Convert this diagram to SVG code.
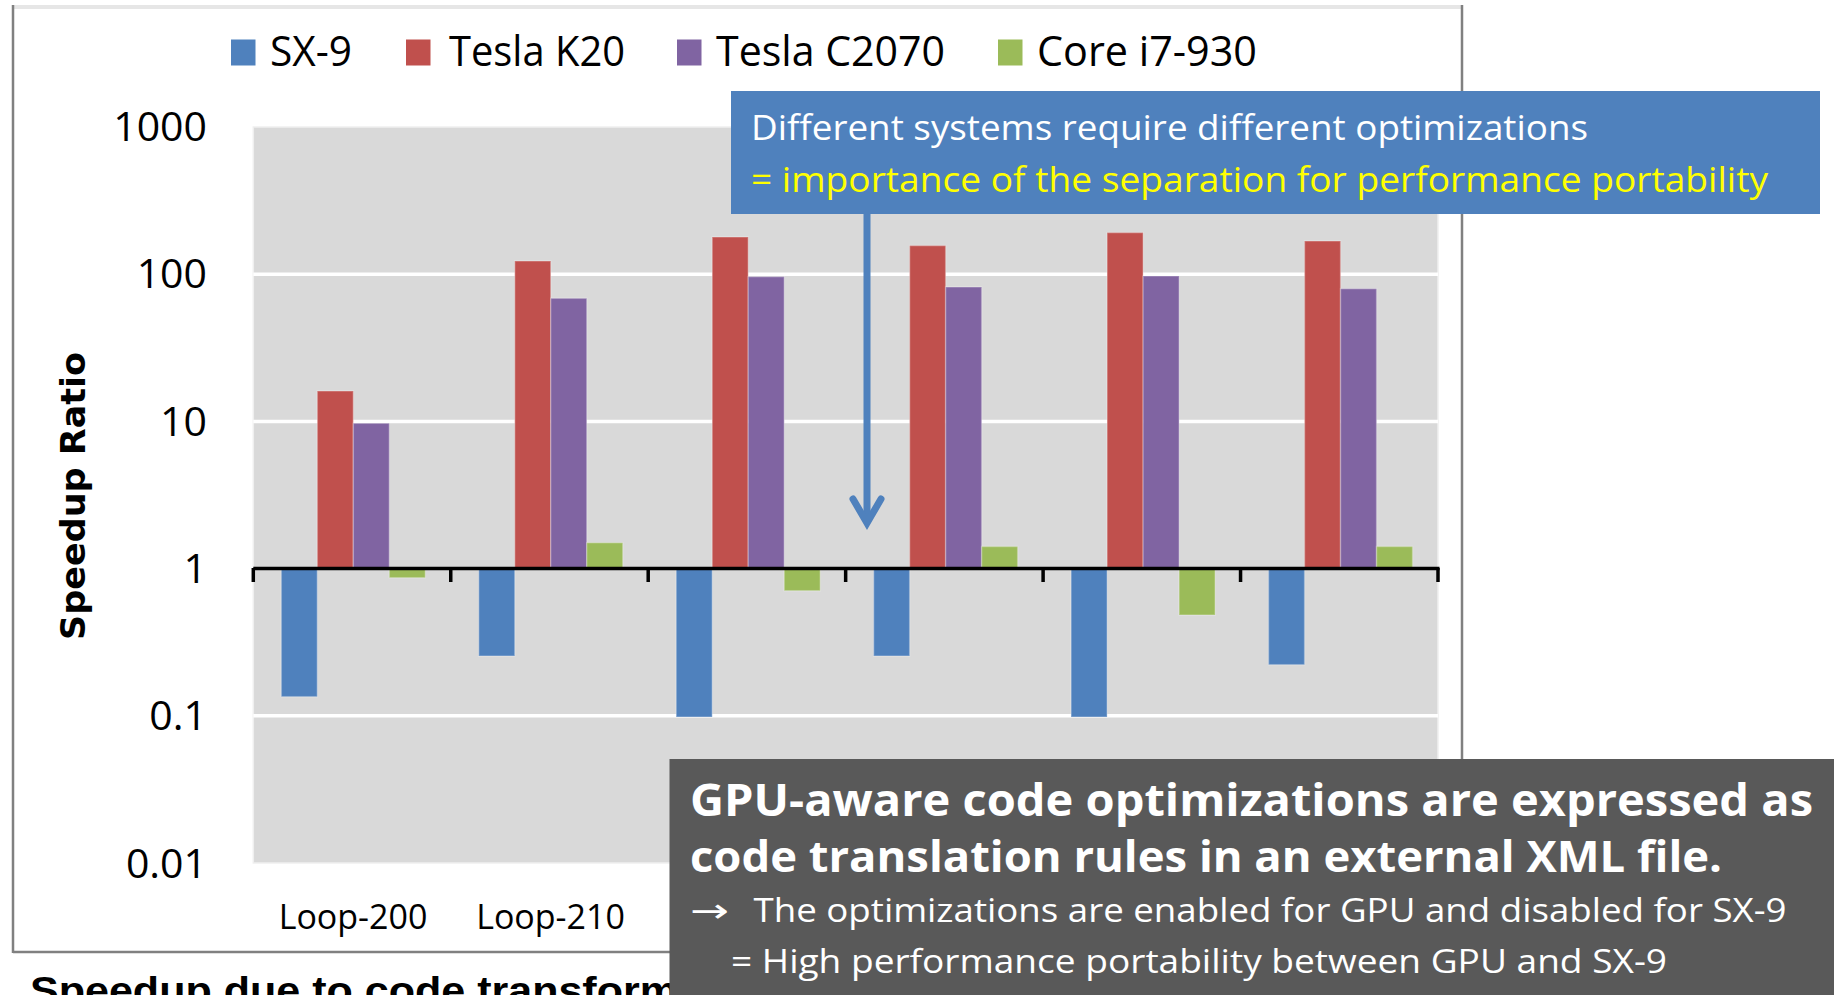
<svg xmlns="http://www.w3.org/2000/svg" width="1834" height="995" viewBox="0 0 1834 995">
<style>
.os{font-family:"Open Sans","DejaVu Sans",sans-serif;}
.tick{font-family:"Open Sans",sans-serif;font-size:41px;fill:#000;text-anchor:end;}
.leg{font-family:"Open Sans",sans-serif;font-size:42px;fill:#000;}
.cat{font-family:"Open Sans",sans-serif;font-size:34px;fill:#000;text-anchor:middle;}
.grid{stroke:#fff;stroke-width:3.5;}
.b{fill:#4F81BD;}
.r{fill:#C0504D;}
.p{fill:#8064A2;}
.g{fill:#9BBB59;}
.bar rect{stroke:#fff;stroke-opacity:0.25;stroke-width:1.5;}
.tk{stroke:#000;stroke-width:3.5;}
</style>
<rect x="0" y="0" width="1834" height="995" fill="#fff"/>

<g id="chart-frame">
  <line x1="13" y1="7" x2="1462" y2="7" stroke="#E6E6E6" stroke-width="4"/>
  <line x1="13" y1="5" x2="13" y2="953" stroke="#808080" stroke-width="2.5"/>
  <line x1="1462" y1="5" x2="1462" y2="953" stroke="#808080" stroke-width="2.5"/>
  <line x1="13" y1="952" x2="1462" y2="952" stroke="#808080" stroke-width="2.5"/>
</g>

<g id="legend">
  <rect class="b" x="231" y="39.5" width="24.5" height="26"/>
  <text class="leg" x="270" y="66" textLength="82" lengthAdjust="spacingAndGlyphs">SX-9</text>
  <rect class="r" x="406" y="39.5" width="24.5" height="26"/>
  <text class="leg" x="449" y="66" textLength="176" lengthAdjust="spacingAndGlyphs">Tesla K20</text>
  <rect class="p" x="677" y="39.5" width="24.5" height="26"/>
  <text class="leg" x="716" y="66" textLength="229" lengthAdjust="spacingAndGlyphs">Tesla C2070</text>
  <rect class="g" x="998" y="39.5" width="24.5" height="26"/>
  <text class="leg" x="1037" y="66" textLength="220" lengthAdjust="spacingAndGlyphs">Core i7-930</text>
</g>

<g id="plot-area">
  <rect x="253.3" y="127" width="1184.7" height="736" fill="#D9D9D9" stroke="#EFEFEF" stroke-width="1.5"/>
  <line class="grid" x1="253.3" y1="274.2" x2="1438" y2="274.2"/>
  <line class="grid" x1="253.3" y1="421.4" x2="1438" y2="421.4"/>
  <line class="grid" x1="253.3" y1="715.8" x2="1438" y2="715.8"/>
</g>

<g id="y-axis">
  <text class="tick" x="207" y="141">1000</text>
  <text class="tick" x="207" y="288">100</text>
  <text class="tick" x="207" y="435.5">10</text>
  <text class="tick" x="207" y="583">1</text>
  <text class="tick" x="207" y="730">0.1</text>
  <text class="tick" x="207" y="878">0.01</text>
  <text transform="translate(85,496) rotate(-90)" x="0" y="0" text-anchor="middle" font-family="'DejaVu Sans',sans-serif" font-weight="bold" font-size="33" fill="#000" textLength="288" lengthAdjust="spacingAndGlyphs">Speedup Ratio</text>
</g>

<g id="bars" class="bar">
  <!-- Loop-200 -->
  <rect class="b" x="281.3" y="568.5" width="36" height="128.2"/>
  <rect class="r" x="317.3" y="391" width="36" height="177.5"/>
  <rect class="p" x="353.3" y="423.3" width="36" height="145.2"/>
  <rect class="g" x="389.3" y="568.5" width="36" height="9.2"/>
  <!-- Loop-210 -->
  <rect class="b" x="478.75" y="568.5" width="36" height="87.5"/>
  <rect class="r" x="514.75" y="261" width="36" height="307.5"/>
  <rect class="p" x="550.75" y="298.3" width="36" height="270.2"/>
  <rect class="g" x="586.75" y="542.7" width="36" height="25.8"/>
  <!-- 3 -->
  <rect class="b" x="676.2" y="568.5" width="36" height="148.5"/>
  <rect class="r" x="712.2" y="237" width="36" height="331.5"/>
  <rect class="p" x="748.2" y="276.7" width="36" height="291.8"/>
  <rect class="g" x="784.2" y="568.5" width="36" height="22.2"/>
  <!-- 4 -->
  <rect class="b" x="873.65" y="568.5" width="36" height="87.5"/>
  <rect class="r" x="909.65" y="245.6" width="36" height="322.9"/>
  <rect class="p" x="945.65" y="287" width="36" height="281.5"/>
  <rect class="g" x="981.65" y="546.5" width="36" height="22"/>
  <!-- 5 -->
  <rect class="b" x="1071.1" y="568.5" width="36" height="148.5"/>
  <rect class="r" x="1107.1" y="232.6" width="36" height="335.9"/>
  <rect class="p" x="1143.1" y="276" width="36" height="292.5"/>
  <rect class="g" x="1179.1" y="568.5" width="36" height="46.5"/>
  <!-- 6 -->
  <rect class="b" x="1268.55" y="568.5" width="36" height="96.2"/>
  <rect class="r" x="1304.55" y="241" width="36" height="327.5"/>
  <rect class="p" x="1340.55" y="288.7" width="36" height="279.8"/>
  <rect class="g" x="1376.55" y="546.5" width="36" height="22"/>
</g>

<g id="x-axis">
  <line x1="253.3" y1="568.5" x2="1439.5" y2="568.5" stroke="#000" stroke-width="3.5"/>
  <line class="tk" x1="253.3" y1="568" x2="253.3" y2="582"/>
  <line class="tk" x1="450.75" y1="568" x2="450.75" y2="582"/>
  <line class="tk" x1="648.2" y1="568" x2="648.2" y2="582"/>
  <line class="tk" x1="845.65" y1="568" x2="845.65" y2="582"/>
  <line class="tk" x1="1043.1" y1="568" x2="1043.1" y2="582"/>
  <line class="tk" x1="1240.55" y1="568" x2="1240.55" y2="582"/>
  <line class="tk" x1="1438" y1="568" x2="1438" y2="582"/>
  <text class="cat" x="353" y="929">Loop-200</text>
  <text class="cat" x="550.5" y="929">Loop-210</text>
</g>

<g id="caption">
  <text x="30" y="1004" font-family="'Liberation Sans',Arial,sans-serif" font-weight="bold" font-size="38" fill="#000" textLength="648" lengthAdjust="spacingAndGlyphs">Speedup due to code transform</text>
</g>

<g id="connectors">
  <line x1="867" y1="213" x2="867" y2="520" stroke="#4F81BD" stroke-width="7"/>
  <polyline points="853,499 867,523 881,499" fill="none" stroke="#4F81BD" stroke-width="7" stroke-linecap="round" stroke-linejoin="miter" stroke-miterlimit="10"/>
</g>

<g id="callout-blue">
  <rect x="731" y="91" width="1089" height="123" fill="#4F81BD"/>
  <text class="os" x="751" y="140" font-size="35" fill="#fff" textLength="837" lengthAdjust="spacingAndGlyphs">Different systems require different optimizations</text>
  <text class="os" x="751" y="191.5" font-size="35" fill="#FFFF00" textLength="1017" lengthAdjust="spacingAndGlyphs">= importance of the separation for performance portability</text>
</g>

<g id="callout-gray">
  <rect x="669.5" y="759" width="1164.5" height="236" fill="#595959"/>
  <text class="os" x="690" y="816" font-size="44" font-weight="bold" fill="#fff" textLength="1123" lengthAdjust="spacingAndGlyphs">GPU-aware code optimizations are expressed as</text>
  <text class="os" x="690" y="871.5" font-size="43" font-weight="bold" fill="#fff" textLength="1032" lengthAdjust="spacingAndGlyphs">code translation rules in an external XML file.</text>
  <text class="os" y="921.5" font-size="33" fill="#fff"><tspan x="690" textLength="39" lengthAdjust="spacingAndGlyphs">→</tspan><tspan x="753.5" textLength="1033" lengthAdjust="spacingAndGlyphs">The optimizations are enabled for GPU and disabled for SX-9</tspan></text>
  <text class="os" x="731" y="973" font-size="33" fill="#fff" textLength="936" lengthAdjust="spacingAndGlyphs">= High performance portability between GPU and SX-9</text>
</g>
</svg>
